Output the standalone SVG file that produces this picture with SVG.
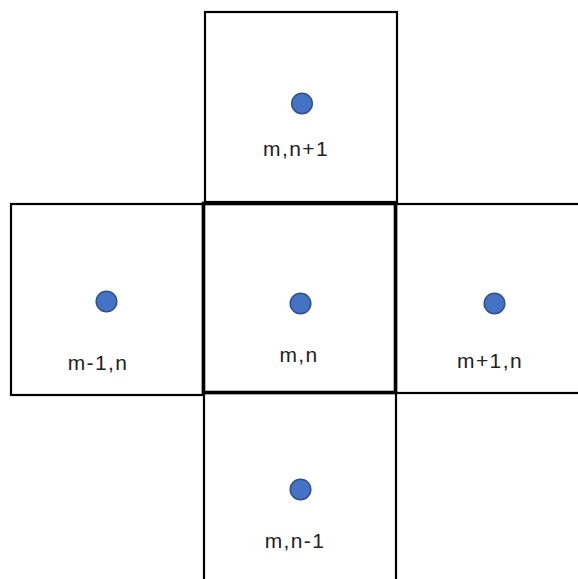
<svg xmlns="http://www.w3.org/2000/svg" width="578" height="579" viewBox="0 0 578 579">
<style>
.cell{fill:none;stroke:#000;stroke-width:2.2}
.center{fill:none;stroke:#000;stroke-width:3.6}
.dot{fill:#4472C4;stroke:#2F528F;stroke-width:1.5}
.lbl{font-family:"Liberation Sans",Arial,sans-serif;font-size:21px;fill:#222;text-anchor:middle;letter-spacing:1.4px}
</style>
<rect width="578" height="579" fill="#fff"/>
<g id="top">
<rect class="cell" x="205" y="12" width="192" height="190"/>
<circle class="dot" cx="302" cy="103.5" r="10.3"/>
<text class="lbl" x="296" y="156">m,n+1</text>
</g>
<g id="left">
<rect class="cell" x="11" y="204" width="192" height="191"/>
<circle class="dot" cx="106.5" cy="301.5" r="10.3"/>
<text class="lbl" x="98" y="370">m-1,n</text>
</g>
<g id="right">
<rect class="cell" x="396" y="204" width="190" height="189"/>
<circle class="dot" cx="494.5" cy="303.5" r="10.3"/>
<text class="lbl" x="490" y="368">m+1,n</text>
</g>
<g id="bottom">
<rect class="cell" x="204" y="393" width="192" height="200"/>
<circle class="dot" cx="300.5" cy="489.5" r="10.3"/>
<text class="lbl" x="295" y="548">m,n-1</text>
</g>
<g id="middle">
<rect class="center" x="203.5" y="203.5" width="192" height="189"/>
<circle class="dot" cx="300.5" cy="303.5" r="10.3"/>
<text class="lbl" x="299" y="362">m,n</text>
</g>
<g id="connectors"></g>
</svg>
